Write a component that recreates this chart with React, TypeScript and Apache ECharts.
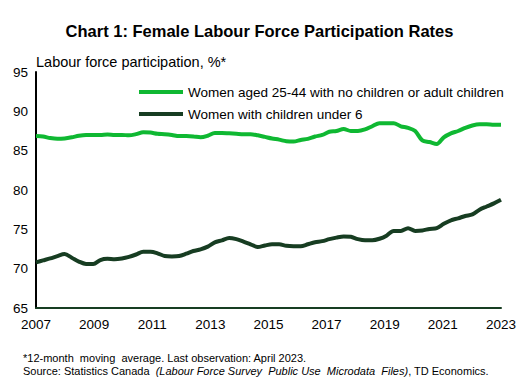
import React, { useEffect, useRef } from "react";
import * as echarts from "echarts";

const FONT = "'Liberation Sans', Arial, sans-serif";

const titleText = "Chart 1: Female Labour Force Participation Rates";
const yAxisTitle = "Labour force participation, %*";
const footnote1 = "*12-month  moving  average. Last observation: April 2023.";

const yearLabels = [
  "2007", "2008", "2009", "2010", "2011", "2012", "2013", "2014", "2015",
  "2016", "2017", "2018", "2019", "2020", "2021", "2022", "2023",
];

const seriesNames = [
  "Women aged 25-44 with no children or adult children",
  "Women with children under 6",
];

// Quarterly readings (Jan, Apr, Jul, Oct) from Jan 2007 to Apr 2023
const noChildren = [
  86.85, 86.8, 86.6, 86.5, 86.55, 86.7, 86.9, 87.0, 87.0, 87.0, 87.05, 87.0,
  87.0, 86.95, 87.1, 87.35, 87.3, 87.15, 87.1, 87.0, 86.85, 86.85, 86.8, 86.7,
  86.9, 87.25, 87.25, 87.2, 87.15, 87.1, 87.1, 86.95, 86.75, 86.55, 86.4, 86.2,
  86.15, 86.35, 86.5, 86.8, 87.0, 87.4, 87.5, 87.75, 87.5, 87.5, 87.7, 88.1,
  88.5, 88.5, 88.5, 88.1, 87.9, 87.5, 86.3, 86.1, 85.85, 86.7, 87.2, 87.5,
  87.9, 88.2, 88.35, 88.35, 88.3, 88.3,
];

const childrenUnder6 = [
  70.8, 71.05, 71.3, 71.6, 71.85, 71.4, 70.9, 70.6, 70.6, 71.1, 71.25, 71.2,
  71.3, 71.5, 71.8, 72.15, 72.15, 71.95, 71.6, 71.55, 71.6, 71.9, 72.25, 72.45,
  72.8, 73.35, 73.6, 73.9, 73.75, 73.45, 73.1, 72.75, 72.95, 73.1, 73.1, 72.9,
  72.85, 72.85, 73.1, 73.35, 73.5, 73.75, 73.95, 74.1, 74.05, 73.75, 73.6, 73.6,
  73.8, 74.2, 74.8, 74.8, 75.15, 74.8, 74.85, 75.05, 75.15, 75.7, 76.15, 76.4,
  76.7, 76.9, 77.5, 77.9, 78.3, 78.75,
];

const dates = noChildren.map((_, i) => {
  const m = i * 3;
  const y = 2007 + Math.floor(m / 12);
  const mo = (m % 12) + 1;
  return `${y}-${mo < 10 ? "0" + mo : mo}-01`;
});

const GREEN = "#0fb832";
const DARK = "#173d22";

export default function App() {
  const ref = useRef<HTMLDivElement>(null);
  useEffect(() => {
    if (!ref.current) return;
    const chart = echarts.init(ref.current, undefined, { renderer: "svg" });
    chart.setOption({
      animation: false,
      backgroundColor: "#ffffff",
      textStyle: { fontFamily: FONT },
      title: {
        text: titleText,
        left: "center",
        top: 17,
        textStyle: { fontFamily: FONT, fontSize: 16.5, fontWeight: "bold", color: "#000" },
      },
      legend: {
        orient: "vertical",
        left: 134,
        top: 80,
        itemWidth: 44,
        itemHeight: 4,
        itemGap: 8,
        icon: "rect",
        textStyle: { fontFamily: FONT, fontSize: 13.5, color: "#000" },
        data: seriesNames,
      },
      grid: { left: 36, right: 16, top: 72, bottom: 77, containLabel: false },
      xAxis: [
        {
          type: "category",
          data: yearLabels,
          boundaryGap: false,
          axisLine: { show: true, lineStyle: { color: DARK, width: 2 } },
          axisTick: { show: false },
          axisLabel: { interval: 1, color: "#000", fontSize: 13.5, fontFamily: FONT, margin: 9 },
          splitLine: { show: false },
        },
        {
          type: "time",
          min: "2007-01-01",
          max: "2023-04-01",
          show: false,
          splitLine: { show: false },
        },
      ],
      yAxis: {
        type: "value",
        min: 65,
        max: 95,
        interval: 5,
        axisLine: { show: true, lineStyle: { color: "#000", width: 2 } },
        axisTick: { show: false },
        splitLine: { show: false },
        axisLabel: { color: "#000", fontSize: 13.5, fontFamily: FONT, margin: 8 },
      },
      graphic: [
        {
          type: "text",
          left: 36,
          top: 54,
          style: { text: yAxisTitle, fill: "#000", font: `14.5px ${FONT}` },
        },
        {
          type: "text",
          left: 23,
          top: 352,
          style: { text: footnote1, fill: "#000", font: `11px ${FONT}` },
        },
        {
          type: "text",
          left: 23,
          top: 365,
          style: {
            text: "{n|Source: Statistics Canada  }{i|(Labour Force Survey  Public Use  Microdata  Files)}{n|, TD Economics.}",
            fill: "#000",
            font: `11px ${FONT}`,
            rich: {
              n: { fontFamily: FONT, fontSize: 11, fill: "#000" },
              i: { fontFamily: FONT, fontSize: 11, fontStyle: "italic", fill: "#000" },
            },
          },
        },
      ],
      series: [
        {
          name: seriesNames[0],
          type: "line",
          xAxisIndex: 1,
          data: dates.map((d, i) => [d, noChildren[i]]),
          showSymbol: false,
          smooth: 0.3,
          lineStyle: { color: GREEN, width: 4 },
          itemStyle: { color: GREEN },
        },
        {
          name: seriesNames[1],
          type: "line",
          xAxisIndex: 1,
          data: dates.map((d, i) => [d, childrenUnder6[i]]),
          showSymbol: false,
          smooth: 0.3,
          lineStyle: { color: DARK, width: 4 },
          itemStyle: { color: DARK },
        },
      ],
    });
    return () => chart.dispose();
  }, []);
  return <div ref={ref} style={{ width: 519, height: 385, position: "absolute", left: 0, top: 0 }} />;
}
